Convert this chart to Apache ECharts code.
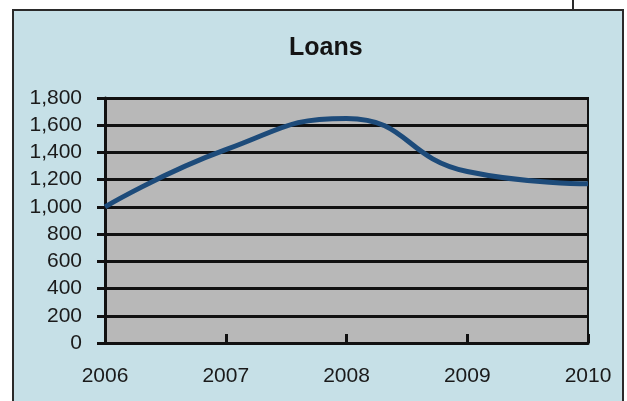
<!DOCTYPE html>
<html>
<head>
<meta charset="utf-8">
<script src="https://cdn.jsdelivr.net/npm/echarts@6/dist/echarts.min.js"></script>
<style>
  html, body { margin: 0; padding: 0; background: #ffffff; }
  #chart { width: 627px; height: 401px; }
</style>
</head>
<body>
<div id="chart"></div>
<script>
(function () {
  var years = ['2006', '2007', '2008', '2009', '2010'];
  var loans = [1000, 1420, 1650, 1260, 1170];
  var yTicks = { min: 0, max: 1800, interval: 200 };

  var ink = '#111111';
  var labelFont = '"Liberation Sans", Arial, sans-serif';

  var chart = echarts.init(document.getElementById('chart'), null, { renderer: 'canvas' });

  chart.setOption({
    animation: false,
    backgroundColor: '#ffffff',
    title: {
      text: 'Loans',
      left: 284,
      top: 31,
      textStyle: { color: '#141414', fontSize: 25, fontWeight: 'bold', fontFamily: labelFont }
    },
    graphic: [
      // chart area frame (scanned excel chart)
      {
        type: 'rect', z: -10,
        shape: { x: 13, y: 10, width: 610, height: 400 },
        style: { fill: '#c6e0e7', stroke: '#2a2a2a', lineWidth: 2 }
      },
      {
        type: 'line', z: -9,
        shape: { x1: 573, y1: 0, x2: 573, y2: 10 },
        style: { stroke: '#2a2a2a', lineWidth: 2 }
      }
    ],
    grid: {
      left: 105, right: 39, top: 98, bottom: 58,
      show: true,
      backgroundColor: '#b8b8b8',
      borderColor: ink,
      borderWidth: 2
    },
    xAxis: {
      type: 'category',
      data: years,
      boundaryGap: false,
      axisLine: { lineStyle: { color: ink, width: 3 } },
      axisTick: { show: true, inside: true, length: 9, lineStyle: { color: ink, width: 3 } },
      axisLabel: { color: '#1a1a1a', fontSize: 21, fontFamily: labelFont, margin: 23 },
      splitLine: { show: false }
    },
    yAxis: {
      type: 'value',
      min: yTicks.min, max: yTicks.max, interval: yTicks.interval,
      axisLine: { show: true, lineStyle: { color: ink, width: 3 } },
      axisTick: { show: true, length: 8, lineStyle: { color: ink, width: 3 } },
      axisLabel: {
        color: '#1a1a1a', fontSize: 21, fontFamily: labelFont, margin: 23,
        formatter: function (v) { return v.toLocaleString('en-US'); }
      },
      splitLine: { lineStyle: { color: ink, width: 3 } }
    },
    series: [
      {
        name: 'Loans', type: 'line', data: loans,
        smooth: 0.5,
        symbol: 'none',
        lineStyle: { color: '#1d4b7a', width: 5 },
        z: 3
      }
    ]
  });
})();
</script>
</body>
</html>
